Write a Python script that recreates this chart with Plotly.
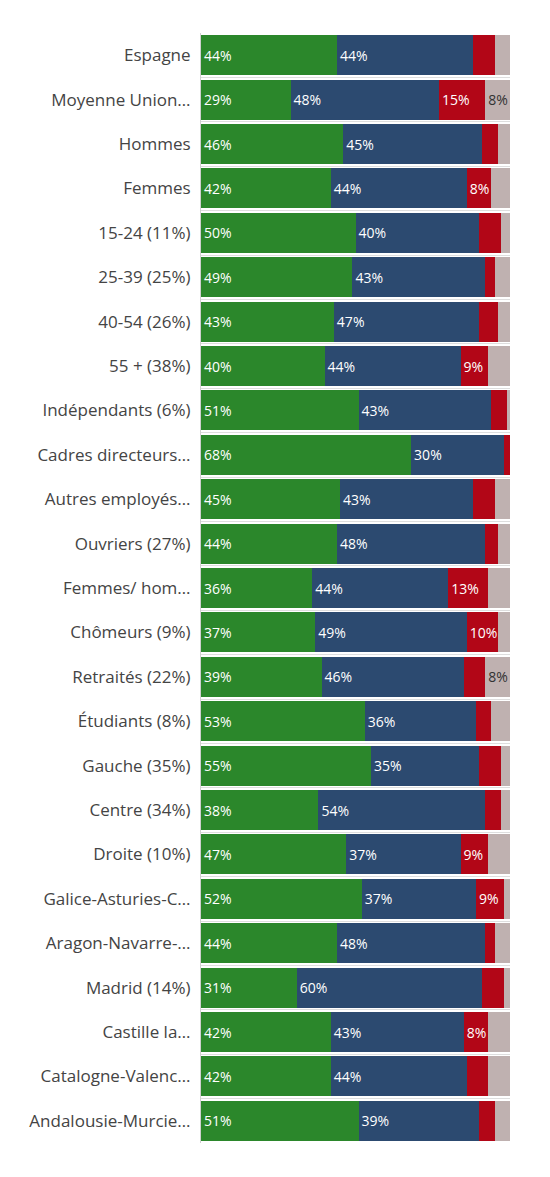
import plotly.graph_objects as go

categories = [
    "Espagne", "Moyenne Union…", "Hommes", "Femmes", "15-24 (11%)",
    "25-39 (25%)", "40-54 (26%)", "55 + (38%)", "Indépendants (6%)",
    "Cadres directeurs…", "Autres employés…", "Ouvriers (27%)",
    "Femmes/ hom…", "Chômeurs (9%)", "Retraités (22%)", "Étudiants (8%)",
    "Gauche (35%)", "Centre (34%)", "Droite (10%)", "Galice-Asturies-C…",
    "Aragon-Navarre-…", "Madrid (14%)", "Castille la…", "Catalogne-Valenc…",
    "Andalousie-Murcie…",
]

green_vals = [44, 29, 46, 42, 50, 49, 43, 40, 51, 68, 45, 44, 36, 37, 39, 53, 55, 38, 47, 52, 44, 31, 42, 42, 51]
blue_vals = [44, 48, 45, 44, 40, 43, 47, 44, 43, 30, 43, 48, 44, 49, 46, 36, 35, 54, 37, 37, 48, 60, 43, 44, 39]
red_vals = [7, 15, 5, 8, 7, 3, 6, 9, 5, 2, 7, 4, 13, 10, 7, 5, 7, 5, 9, 9, 3, 7, 8, 7, 5]
grey_vals = [5, 8, 4, 6, 3, 5, 4, 7, 1, 0, 5, 4, 7, 4, 8, 6, 3, 3, 7, 2, 5, 2, 7, 7, 5]

series = [
    ("Vert", green_vals, "#2b872b", "white"),
    ("Bleu", blue_vals, "#2c4a70", "white"),
    ("Rouge", red_vals, "#b20617", "white"),
    ("Gris", grey_vals, "#bfb1b0", "#333333"),
]

fig = go.Figure()

for name, vals, color, txtcolor in series:
    # only segments of 8% or more get a label
    labels = [f"{v}%" if v >= 8 else "" for v in vals]
    fig.add_trace(
        go.Bar(
            y=categories,
            x=vals,
            name=name,
            orientation="h",
            marker=dict(color=color, line=dict(width=0)),
            text=labels,
            textposition="inside",
            insidetextanchor="start",
            textangle=0,
            textfont=dict(color=txtcolor, size=14, family="Open Sans"),
            hoverinfo="skip",
        )
    )

fig.update_layout(
    barmode="stack",
    bargap=0.1,
    width=550,
    height=1177,
    margin=dict(l=193, r=48, t=25, b=42),
    showlegend=False,
    plot_bgcolor="white",
    paper_bgcolor="white",
    font=dict(family="Open Sans", color="#444444"),
    uniformtext=dict(mode="show", minsize=14),
    xaxis=dict(
        range=[0, 100],
        showgrid=False,
        zeroline=False,
        showticklabels=False,
        ticks="",
    ),
    yaxis=dict(
        autorange="reversed",
        showline=True,
        linecolor="#d0d0d0",
        linewidth=1,
        showgrid=True,
        gridcolor="#dedede",
        gridwidth=1,
        tickson="boundaries",
        ticks="",
        ticklabelstandoff=6,
        tickfont=dict(size=17, color="#444444"),
    ),
)

fig.write_html("out.html")
